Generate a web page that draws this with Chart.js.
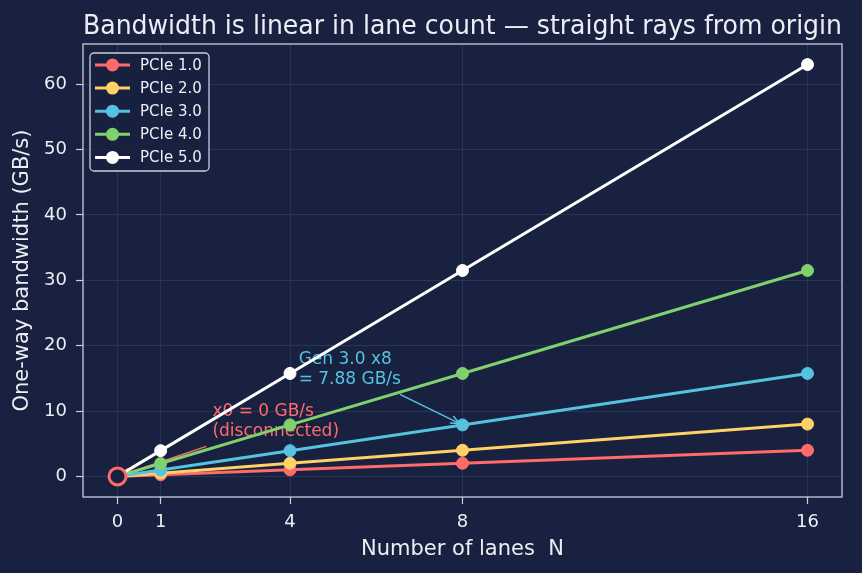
<!DOCTYPE html>
<html>
<head>
<meta charset="utf-8">
<script src="https://cdn.jsdelivr.net/npm/chart.js@4"></script>
<style>
html, body { margin: 0; padding: 0; background: #18213f; }
#c { display: block; }
</style>
</head>
<body>
<canvas id="c" width="862" height="573"></canvas>
<script>
// lanes on the x axis, GB/s one-way per generation
var lanes = [0, 1, 4, 8, 16];
var seriesNames = ['PCIe 1.0', 'PCIe 2.0', 'PCIe 3.0', 'PCIe 4.0', 'PCIe 5.0'];
var gen1 = [0, 0.25, 1.0, 2.0, 4.0];
var gen2 = [0, 0.5, 2.0, 4.0, 8.0];
var gen3 = [0, 0.985, 3.94, 7.88, 15.75];
var gen4 = [0, 1.97, 7.88, 15.75, 31.5];
var gen5 = [0, 3.94, 15.75, 31.5, 63.0];
var xTicks = [0, 1, 4, 8, 16];
var yTicks = [0, 10, 20, 30, 40, 50, 60];

var bg = '#18213f';
var colors = ['#ff6b6b', '#ffd166', '#56c2e0', '#80d16e', '#ffffff'];
var textColor = '#eceef4';
var gridColor = '#2e3a5d';
var spineColor = '#c9cedb';
var FONT = 'DejaVu Sans';

function toPoints(vals) {
    return lanes.map(function (n, i) { return {x: n, y: vals[i]}; });
}

var datasets = [gen1, gen2, gen3, gen4, gen5].map(function (vals, i) {
    return {
        label: seriesNames[i],
        data: toPoints(vals),
        borderColor: colors[i],
        backgroundColor: colors[i],
        borderWidth: 3,
        pointRadius: 6,
        pointHoverRadius: 6,
        pointBorderWidth: 1,
        order: 5 - i
    };
});
// hollow marker at the origin (x0 = 0 GB/s)
datasets.push({
    label: 'origin',
    data: [{x: 0, y: 0}],
    showLine: false,
    pointRadius: 8.5,
    pointHoverRadius: 8.5,
    pointBorderWidth: 3,
    borderColor: colors[0],
    backgroundColor: bg,
    order: -1
});

var notes = [
    {lines: ['x0 = 0 GB/s', '(disconnected)'], at: [2.2, 9.95], color: colors[0], from: [2.06, 4.6], to: [0, 0]},
    {lines: ['Gen 3.0 x8', '= 7.88 GB/s'], at: [4.2, 17.9], color: colors[2], from: [6.55, 12.55], to: [8, gen3[3]]}
];

var notesPlugin = {
    id: 'notes',
    beforeDatasetsDraw: function (chart) {
        var ctx = chart.ctx, xs = chart.scales.x, ys = chart.scales.y;
        ctx.save();
        notes.forEach(function (n) {
            ctx.fillStyle = n.color;
            ctx.font = '17px "' + FONT + '"';
            ctx.textAlign = 'left';
            ctx.textBaseline = 'middle';
            var tx = xs.getPixelForValue(n.at[0]), ty = ys.getPixelForValue(n.at[1]);
            n.lines.forEach(function (l, k) { ctx.fillText(l, tx, ty + k * 20.5); });

            var x1 = xs.getPixelForValue(n.from[0]), y1 = ys.getPixelForValue(n.from[1]);
            var x2 = xs.getPixelForValue(n.to[0]), y2 = ys.getPixelForValue(n.to[1]);
            var a = Math.atan2(y2 - y1, x2 - x1);
            x2 -= 3 * Math.cos(a); y2 -= 3 * Math.sin(a);
            ctx.strokeStyle = n.color;
            ctx.lineWidth = 1.5;
            ctx.beginPath();
            ctx.moveTo(x1, y1); ctx.lineTo(x2, y2);
            ctx.moveTo(x2 - 10 * Math.cos(a - 0.4), y2 - 10 * Math.sin(a - 0.4));
            ctx.lineTo(x2, y2);
            ctx.lineTo(x2 - 10 * Math.cos(a + 0.4), y2 - 10 * Math.sin(a + 0.4));
            ctx.stroke();
        });
        ctx.restore();
    },
    afterDatasetsDraw: function (chart) {
        var ctx = chart.ctx, a = chart.chartArea;
        ctx.save();
        ctx.strokeStyle = spineColor;
        ctx.lineWidth = 1.3;
        ctx.strokeRect(a.left, a.top, a.right - a.left, a.bottom - a.top);
        ctx.restore();
    },
    afterDraw: function (chart) {
        // legend box, top left inside the axes
        var ctx = chart.ctx, a = chart.chartArea;
        var x0 = a.left + 7, y0 = a.top + 9, w = 119, h = 118, r = 4;
        ctx.save();
        ctx.beginPath();
        ctx.moveTo(x0 + r, y0);
        ctx.arcTo(x0 + w, y0, x0 + w, y0 + h, r);
        ctx.arcTo(x0 + w, y0 + h, x0, y0 + h, r);
        ctx.arcTo(x0, y0 + h, x0, y0, r);
        ctx.arcTo(x0, y0, x0 + w, y0, r);
        ctx.closePath();
        ctx.fillStyle = 'rgba(24,33,63,0.85)';
        ctx.fill();
        ctx.strokeStyle = spineColor;
        ctx.lineWidth = 1.3;
        ctx.stroke();

        ctx.font = '15px "' + FONT + '"';
        ctx.textAlign = 'left';
        ctx.textBaseline = 'middle';
        chart.data.datasets.slice(0, 5).forEach(function (ds, i) {
            var y = y0 + 12 + i * 23.1;
            ctx.strokeStyle = ds.borderColor;
            ctx.lineWidth = 3;
            ctx.beginPath();
            ctx.moveTo(x0 + 5, y); ctx.lineTo(x0 + 40, y);
            ctx.stroke();
            ctx.fillStyle = ds.borderColor;
            ctx.beginPath();
            ctx.arc(x0 + 22.5, y, 6.5, 0, Math.PI * 2);
            ctx.fill();
            ctx.fillStyle = textColor;
            ctx.fillText(ds.label, x0 + 50, y + 1);
        });
        ctx.restore();
    }
};

var ctx = document.getElementById('c').getContext('2d');
var chart = new Chart(ctx, {
    type: 'line',
    data: {datasets: datasets},
    options: {
        responsive: false,
        animation: false,
        events: [],
        layout: {padding: {left: 0, right: 20, top: 0, bottom: 0}},
        plugins: {
            legend: {display: false},
            tooltip: {enabled: false},
            title: {
                display: true,
                text: 'Bandwidth is linear in lane count \u2014 straight rays from origin',
                color: textColor,
                fullSize: false,
                font: {family: FONT, size: 26.4, weight: 'normal'},
                padding: {top: 11.5, bottom: 0.8}
            }
        },
        scales: {
            x: {
                type: 'linear',
                min: -0.8,
                max: 16.8,
                afterBuildTicks: function (s) { s.ticks = xTicks.map(function (v) { return {value: v}; }); },
                afterFit: function (s) { s.height = 76; },
                grid: {color: gridColor, lineWidth: 0.8, tickColor: spineColor, tickLength: 7, tickWidth: 1.2},
                border: {display: false},
                ticks: {color: textColor, font: {family: FONT, size: 18}, padding: 8, maxRotation: 0, autoSkip: false},
                title: {display: true, text: 'Number of lanes  N', color: textColor, font: {family: FONT, size: 21}, padding: {top: 0, bottom: 11}}
            },
            y: {
                min: -3.15,
                max: 66.15,
                afterBuildTicks: function (s) { s.ticks = yTicks.map(function (v) { return {value: v}; }); },
                afterFit: function (s) { s.width = 83; },
                grid: {color: gridColor, lineWidth: 0.8, tickColor: spineColor, tickLength: 7, tickWidth: 1.2},
                border: {display: false},
                ticks: {color: textColor, font: {family: FONT, size: 18}, padding: 9},
                title: {display: true, text: 'One-way bandwidth (GB/s)', color: textColor, font: {family: FONT, size: 21}, padding: {top: 9.5, bottom: 0}}
            }
        }
    },
    plugins: [notesPlugin]
});
</script>
</body>
</html>
